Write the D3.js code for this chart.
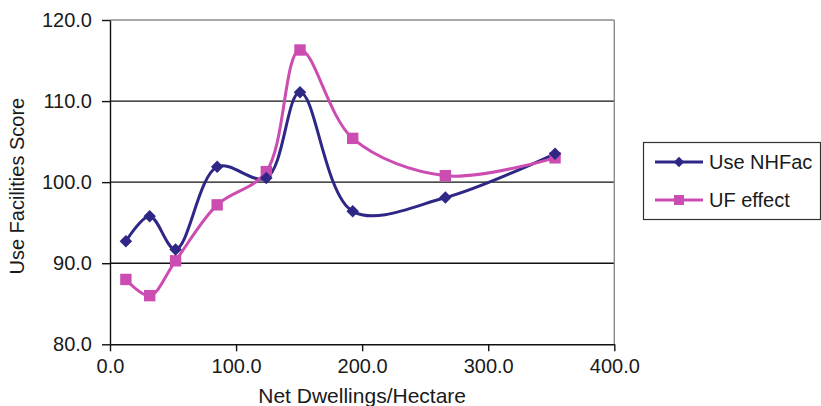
<!DOCTYPE html>
<html>
<head>
<meta charset="utf-8">
<script src="https://cdn.jsdelivr.net/npm/d3@7"></script>
<style>
  html, body { margin: 0; padding: 0; background: #fff; }
  svg { display: block; font-family: "Liberation Sans", Arial, Helvetica, sans-serif; }
</style>
</head>
<body>
<svg id="chart" width="821" height="406"></svg>
<script>
// Net dwellings per hectare (x) for each observation
const density = [12.6, 31.5, 52, 85, 124, 150.7, 192.5, 266, 353];
// Use Facilities Score series
const useNHFac = [92.7, 95.8, 91.7, 101.9, 100.5, 111.1, 96.4, 98.1, 103.5];
const ufEffect = [88.0, 86.0, 90.3, 97.2, 101.3, 116.3, 105.4, 100.8, 103.0];
const xTicks = [0, 100, 200, 300, 400];
const yTicks = [80, 90, 100, 110, 120];
const seriesNames = ["Use NHFac", "UF effect"];

const svg = d3.select("#chart");
const plot = { left: 110, right: 614.3, top: 20, bottom: 344.3 };

const x = d3.scaleLinear().domain([0, 400]).range([plot.left, plot.right]);
const y = d3.scaleLinear().domain([80, 120]).range([plot.bottom, plot.top]);

const navy = "#2e2785";
const pink = "#cc4db1";

// horizontal gridlines
svg.append("g").selectAll("line")
  .data(yTicks.filter(d => d > 80))
  .join("line")
  .attr("x1", plot.left).attr("x2", plot.right)
  .attr("y1", d => y(d)).attr("y2", d => y(d))
  .attr("stroke", d => d === 120 ? "#8c8c8c" : "#111")
  .attr("stroke-width", 1.4);

// right border of plot area
svg.append("line")
  .attr("x1", plot.right).attr("x2", plot.right)
  .attr("y1", plot.top).attr("y2", plot.bottom)
  .attr("stroke", "#8c8c8c").attr("stroke-width", 1.4);

// axes
const xAxis = d3.axisBottom(x).tickValues(xTicks).tickFormat(d3.format(".1f"))
  .tickSizeInner(7).tickSizeOuter(0).tickPadding(8);
const yAxis = d3.axisLeft(y).tickValues(yTicks).tickFormat(d3.format(".1f"))
  .tickSizeInner(8).tickSizeOuter(0).tickPadding(10);

const gx = svg.append("g").attr("transform", `translate(0,${plot.bottom})`).call(xAxis);
const gy = svg.append("g").attr("transform", `translate(${plot.left},0)`).call(yAxis);
[gx, gy].forEach(g => {
  g.select(".domain").attr("stroke", "#111").attr("stroke-width", 1.4);
  g.selectAll(".tick line").attr("stroke", "#111").attr("stroke-width", 1.4);
  g.selectAll(".tick text").attr("fill", "#1a1a1a").style("font-size", "20px")
    .style("font-family", "'Liberation Sans', Arial, sans-serif");
});

// axis titles
svg.append("text")
  .attr("x", x(200)).attr("y", 403)
  .attr("text-anchor", "middle").attr("fill", "#1a1a1a")
  .style("font-size", "21px")
  .text("Net Dwellings/Hectare");
svg.append("text")
  .attr("transform", `translate(24,${(plot.top + plot.bottom) / 2 + 4}) rotate(-90)`)
  .attr("text-anchor", "middle").attr("fill", "#1a1a1a")
  .style("font-size", "20px")
  .text("Use Facilities Score");

// smoothed series lines
const line = d3.line()
  .x(d => x(d[0])).y(d => y(d[1]))
  .curve(d3.curveCatmullRom.alpha(0.5));

const nhPts = density.map((d, i) => [d, useNHFac[i]]);
const ufPts = density.map((d, i) => [d, ufEffect[i]]);

svg.append("path").datum(nhPts).attr("d", line)
  .attr("fill", "none").attr("stroke", navy).attr("stroke-width", 3);
svg.append("path").datum(ufPts).attr("d", line)
  .attr("fill", "none").attr("stroke", pink).attr("stroke-width", 3);

// point markers: squares for UF effect, diamonds for Use NHFac
svg.append("g").selectAll("path").data(ufPts).join("path")
  .attr("transform", d => `translate(${x(d[0])},${y(d[1])})`)
  .attr("d", d3.symbol().type(d3.symbolSquare).size(130))
  .attr("fill", pink);
svg.append("g").selectAll("path").data(nhPts).join("path")
  .attr("transform", d => `translate(${x(d[0])},${y(d[1])}) rotate(45)`)
  .attr("d", d3.symbol().type(d3.symbolSquare).size(78))
  .attr("fill", navy);

// legend
const lg = svg.append("g");
lg.append("rect")
  .attr("x", 643.5).attr("y", 142.5).attr("width", 177).attr("height", 77)
  .attr("fill", "#fff").attr("stroke", "#333").attr("stroke-width", 1.2);
const items = [
  { name: seriesNames[0], color: navy, ly: 162, sq: false },
  { name: seriesNames[1], color: pink, ly: 200, sq: true }
];
items.forEach(it => {
  lg.append("line").attr("x1", 655).attr("x2", 703)
    .attr("y1", it.ly).attr("y2", it.ly)
    .attr("stroke", it.color).attr("stroke-width", 3);
  lg.append("path")
    .attr("transform", `translate(679,${it.ly})${it.sq ? "" : " rotate(45)"}`)
    .attr("d", d3.symbol().type(d3.symbolSquare).size(it.sq ? 100 : 55))
    .attr("fill", it.color);
  lg.append("text").attr("x", 709).attr("y", it.ly + 7)
    .attr("fill", "#1a1a1a").style("font-size", "20px")
    .text(it.name);
});
</script>
</body>
</html>
